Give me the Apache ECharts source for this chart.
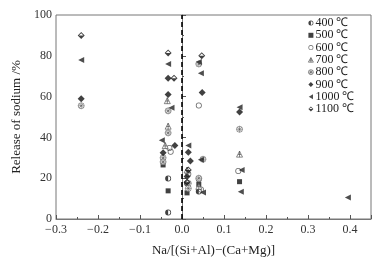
<!DOCTYPE html>
<html>
<head>
<meta charset="utf-8">
<script src="https://cdn.jsdelivr.net/npm/echarts@6/dist/echarts.min.js"></script>
<style>
  html, body { margin: 0; padding: 0; background: #fff; }
  #chart { width: 380px; height: 262px; }
</style>
</head>
<body>
<div id="chart"></div>
<script>
// -----------------------------------------------------------------------------
// Release of sodium vs Na/[(Si+Al)-(Ca+Mg)] - one scatter series per temperature
// -----------------------------------------------------------------------------
const seriesNames = ["400 ℃", "500 ℃", "600 ℃", "700 ℃", "800 ℃", "900 ℃", "1000 ℃", "1100 ℃"];

// [x, release %]
const t400 = [[-0.033, 19.8], [-0.033, 3.2], [0.012, 17.5], [0.04, 13.5]];
const t500 = [[-0.045, 26.5], [-0.033, 13.8], [0.012, 12.8], [0.137, 18.3], [0.04, 17]];
const t600 = [[-0.03, 34.8], [-0.027, 33], [0.04, 55.6], [0.04, 19.5], [0.045, 14.5], [0.134, 23.5], [0.015, 22]];
const t700 = [[-0.033, 45.5], [-0.035, 58], [-0.04, 36], [0.137, 31.8], [0.012, 24], [0.04, 16]];
const t800 = [[-0.24, 55.5], [-0.033, 53], [-0.033, 42.2], [-0.045, 30], [-0.045, 28], [0.04, 76],
  [0.05, 29.3], [0.137, 44], [0.015, 17.5], [0.015, 15], [0.04, 20]];
const t900 = [[-0.24, 59], [-0.033, 69], [-0.033, 61], [-0.017, 36], [-0.045, 32.5], [0.015, 32.7],
  [0.02, 28.4], [0.012, 20.8], [0.048, 62], [0.137, 52.5]];
const t1000 = [[-0.24, 78], [-0.033, 76], [-0.025, 54.5], [-0.048, 38.6], [0.015, 36], [0.045, 71.4],
  [0.04, 77], [0.045, 29], [0.137, 54.8], [0.142, 24], [0.14, 13.3], [0.395, 10.5], [0.05, 13]];
const t1100 = [[-0.24, 90], [-0.033, 81.4], [-0.019, 69], [0.047, 80], [0.015, 24], [0.012, 18]];

const xTicks = [-0.3, 0.45, 0.1];
const yTicks = [0, 100, 20];

const FONT = "'Liberation Serif', 'Times New Roman', serif";

// path symbols
const halfCircle = "path://M0,-10A10,10,0,1,1,0,10A10,10,0,1,1,0,-10Z M0,-7.5A7.5,7.5,0,1,0,0,7.5A7.5,7.5,0,1,0,0,-7.5Z M0,10A10,10,0,0,1,0,-10Z";
const ringCircle = "path://M0,-10A10,10,0,1,1,0,10A10,10,0,1,1,0,-10Z M0,-7.5A7.5,7.5,0,1,0,0,7.5A7.5,7.5,0,1,0,0,-7.5Z";
const crossCircle = "path://M0,-10A10,10,0,1,1,0,10A10,10,0,1,1,0,-10Z M-7,-7L7,7M7,-7L-7,7M0,-10L0,10M-10,0L10,0";
const crossTriangle = "path://M0,-10L10,8L-10,8Z M0,-10L0,8M-5,0L5,0";
const leftTriangle = "path://M-9,0L8,-10L8,10Z";
const halfDiamond = "path://M0,-10L10,0L0,10L-10,0Z M0,-6.5L-6.5,0L0,6.5L6.5,0Z M-10,0L10,0L0,10Z";

const styles = [
  { data: t400, symbol: halfCircle, size: 6, item: { color: "#111" } },
  { data: t500, symbol: "rect", size: 5, item: { color: "#111" } },
  { data: t600, symbol: ringCircle, size: 6, item: { color: "#444" } },
  { data: t700, symbol: crossTriangle, size: 6, item: { color: "#fff", borderColor: "#444", borderWidth: 0.8 } },
  { data: t800, symbol: crossCircle, size: 6, item: { color: "#fff", borderColor: "#555", borderWidth: 0.7 } },
  { data: t900, symbol: "diamond", size: 7, item: { color: "#111" } },
  { data: t1000, symbol: leftTriangle, size: 6, item: { color: "#222" } },
  { data: t1100, symbol: halfDiamond, size: 7, item: { color: "#111" } }
];

const chart = echarts.init(document.getElementById("chart"), null, { renderer: "canvas" });

const fmtX = (v) => (v < -1e-9 ? "−" + Math.abs(v).toFixed(1) : Math.abs(v).toFixed(1));

chart.setOption({
  animation: false,
  textStyle: { fontFamily: FONT },
  grid: { left: 56, right: 9, top: 15, bottom: 42, show: true, borderColor: "#777", borderWidth: 1 },
  legend: {
    orient: "vertical",
    left: 308,
    top: 17,
    itemWidth: 5,
    itemHeight: 5,
    itemGap: 0.3,
    padding: 0,
    data: seriesNames.map((name, i) => ({
      name,
      icon: styles[i].symbol,
      itemStyle: Object.assign({ borderWidth: 0, borderColor: "transparent" }, styles[i].item)
    })),
    textStyle: { fontFamily: FONT, fontSize: 12, color: "#222", padding: [0, 0, 0, -3] }
  },
  xAxis: {
    type: "value",
    min: xTicks[0],
    max: xTicks[1],
    interval: xTicks[2],
    name: "Na/[(Si+Al)−(Ca+Mg)]",
    nameLocation: "middle",
    nameGap: 25,
    nameTextStyle: { fontFamily: FONT, fontSize: 13, color: "#222" },
    axisLine: { lineStyle: { color: "#777", width: 1 } },
    axisTick: { inside: true, length: 4, lineStyle: { color: "#555" } },
    minorTick: { show: true, splitNumber: 2, length: 2, lineStyle: { color: "#555" } },
    axisLabel: { showMaxLabel: false, fontFamily: FONT, fontSize: 12, color: "#333", margin: 5, formatter: fmtX },
    splitLine: { show: false }
  },
  yAxis: {
    type: "value",
    min: yTicks[0],
    max: yTicks[1],
    interval: yTicks[2],
    name: "Release of sodium /%",
    nameLocation: "middle",
    nameGap: 32,
    nameTextStyle: { fontFamily: FONT, fontSize: 13, color: "#222" },
    axisLine: { show: true, lineStyle: { color: "#777", width: 1 } },
    axisTick: { show: true, inside: true, length: 4, lineStyle: { color: "#555" } },
    minorTick: { show: true, splitNumber: 2, length: 2, lineStyle: { color: "#555" } },
    axisLabel: { fontFamily: FONT, fontSize: 12, color: "#333", margin: 4 },
    splitLine: { show: false }
  },
  series: styles.map((s, i) => ({
    name: seriesNames[i],
    type: "scatter",
    data: s.data,
    symbol: s.symbol,
    symbolSize: s.size,
    itemStyle: s.item,
    z: 3,
    markLine: i === 0 ? {
      silent: true,
      symbol: "none",
      label: { show: false },
      lineStyle: { color: "#000", type: [5, 3], width: 1.6 },
      data: [{ xAxis: 0 }]
    } : undefined
  }))
});
</script>
</body>
</html>
